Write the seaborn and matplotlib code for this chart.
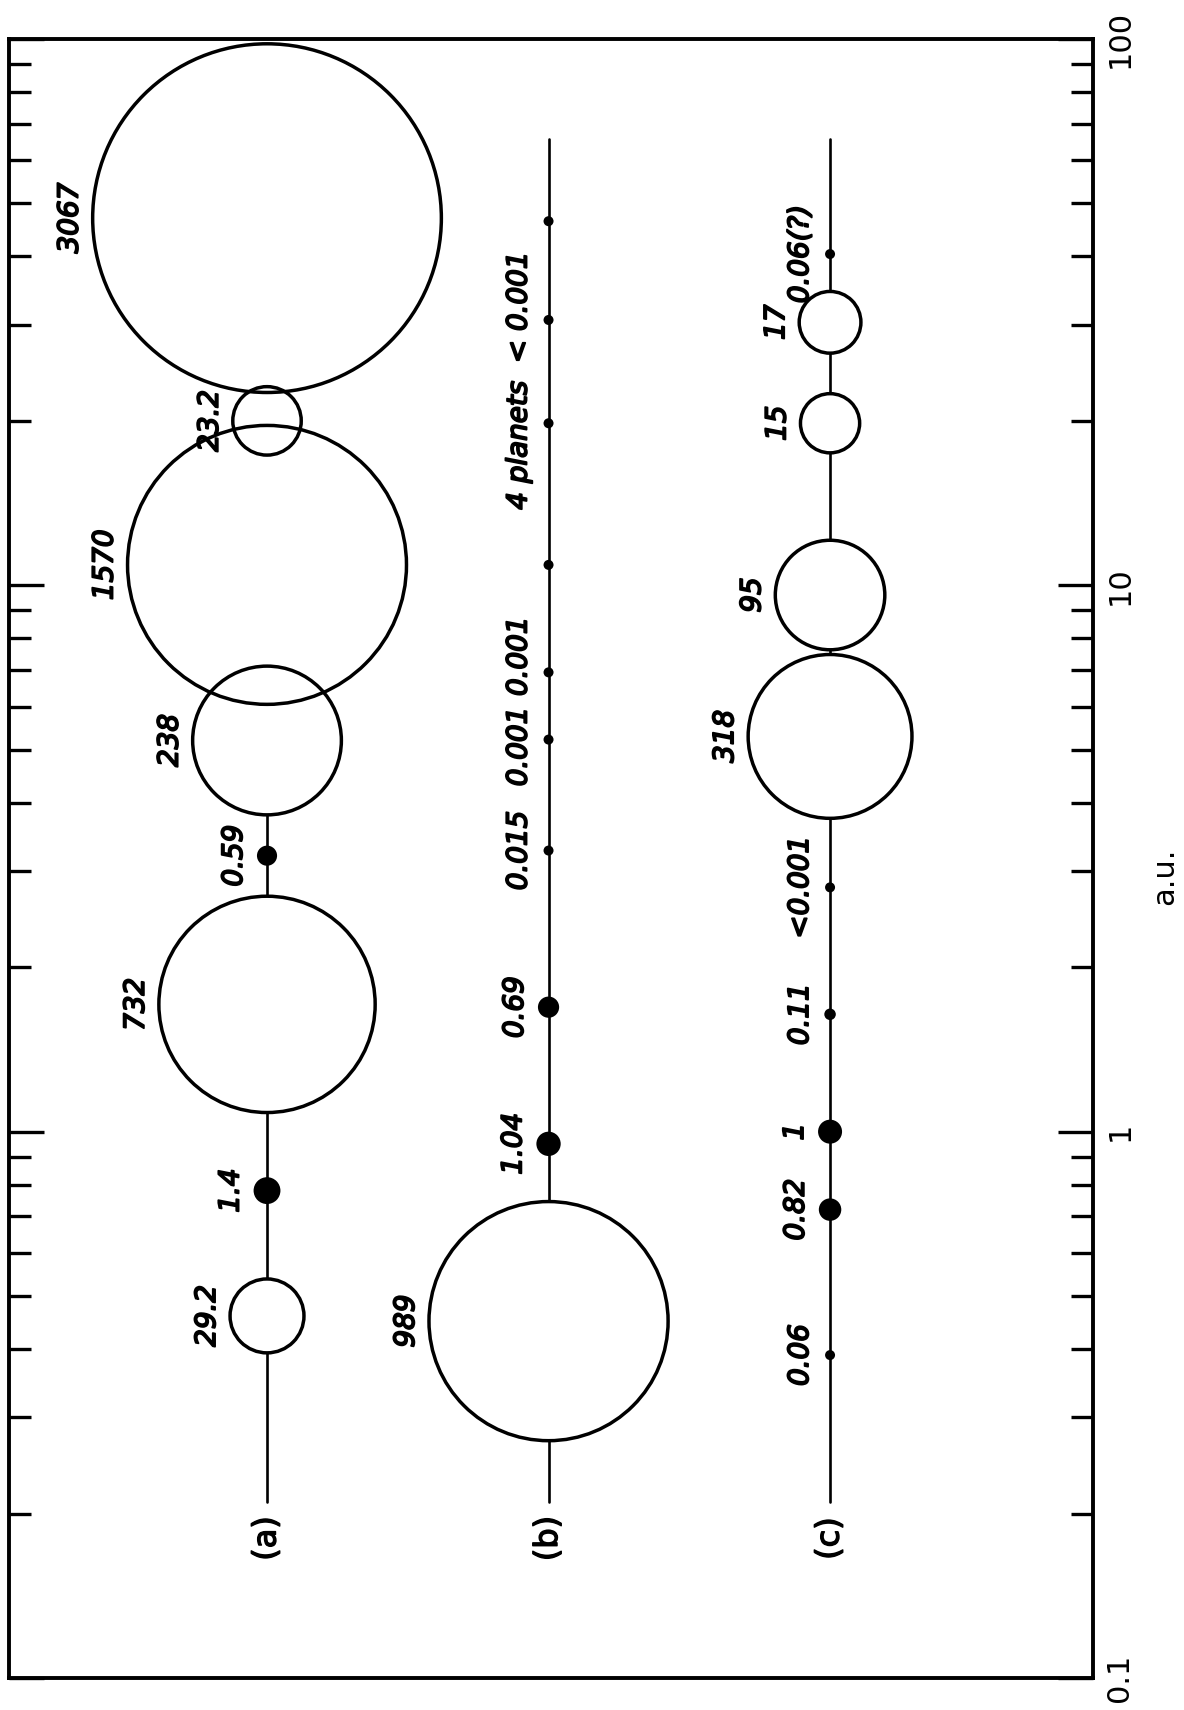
import numpy as np
import pandas as pd
import seaborn as sns
import matplotlib.pyplot as plt
import matplotlib.patheffects as pe
from matplotlib.ticker import LogLocator, FixedLocator, FixedFormatter, NullFormatter

# row (a)
a_au = [0.46, 0.78, 1.71, 3.2, 5.2, 10.9, 20.0, 47.0]
a_mass = [29.2, 1.4, 732, 0.59, 238, 1570, 23.2, 3067]
a_labels = ["29.2", "1.4", "732", "0.59", "238", "1570", "23.2", "3067"]

# row (b)
b_au = [0.45, 0.95, 1.69, 3.27, 5.22, 6.93, 10.9, 19.8, 30.6, 46.4]
b_mass = [989, 1.04, 0.69, 0.015, 0.001, 0.001, 0.001, 0.001, 0.001, 0.001]
b_labels = ["989", "1.04", "0.69", "0.015", "0.001", "0.001", "", "", "", ""]
b_group_label = "4 planets  < 0.001"
b_group_au = 23.7

# row (c)
c_au = [0.39, 0.72, 1.0, 1.64, 2.80, 5.29, 9.6, 19.8, 30.3, 40.4]
c_mass = [0.06, 0.82, 1, 0.11, 0.001, 318, 95, 15, 17, 0.06]
c_labels = ["0.06", "0.82", "1", "0.11", "<0.001", "318", "95", "15", "17", "0.06(?)"]

row_names = ["(a)", "(b)", "(c)"]
line_start = [0.21, 0.21, 0.21]
line_end = [47.0, 65.5, 65.5]
name_au = 0.18

tick_values = [0.1, 1, 10, 100]
tick_labels = ["0.1", "1", "10", "100"]

frames = []
for i, (au, mass, lab) in enumerate([(a_au, a_mass, a_labels),
                                     (b_au, b_mass, b_labels),
                                     (c_au, c_mass, c_labels)]):
    frames.append(pd.DataFrame({"row": i + 1, "au": au, "mass": mass, "label": lab}))
df = pd.concat(frames, ignore_index=True)

# radius ~ cube root of mass, in pixels (dpi 100)
df["r_px"] = np.maximum(12 * np.cbrt(df["mass"]), 5)
df["s"] = (2 * df["r_px"] * 0.72) ** 2
df["dy"] = 0.0
df.loc[(df["row"] == 2) & (df["au"] == 6.93), "dy"] = 16
df.loc[(df["row"] == 2) & (df["au"] == 5.22), "dy"] = -7

big = df[df["mass"] >= 2]
dots = df[df["mass"] < 2]

sns.set_style("white")
plt.rcParams["font.family"] = ["DejaVu Sans"]
plt.rcParams["text.color"] = "black"
plt.rcParams["ytick.color"] = "black"
plt.rcParams["axes.labelcolor"] = "black"

fig = plt.figure(figsize=(11.84, 17.10), dpi=100)
ax = fig.add_axes([9 / 1184, 32 / 1710, 1084 / 1184, 1639 / 1710])
ax.set_yscale("log")

for i in range(3):
    sns.lineplot(x=[i + 1, i + 1], y=[line_start[i], line_end[i]], orient="y",
                 estimator=None, color="black", linewidth=1.9, ax=ax, zorder=1)

sns.scatterplot(data=big, x="row", y="au", s=big["s"].to_numpy(), color="white",
                edgecolor="none", linewidth=0, zorder=2, ax=ax, legend=False, clip_on=False)
sns.scatterplot(data=big, x="row", y="au", s=big["s"].to_numpy(), color="black",
                facecolor="none", edgecolor="black", linewidth=2.5, zorder=3, ax=ax,
                legend=False, clip_on=False)
sns.scatterplot(data=dots, x="row", y="au", s=dots["s"].to_numpy(), color="black",
                edgecolor="none", linewidth=0, zorder=4, ax=ax, legend=False)

stroke = [pe.withStroke(linewidth=1.3, foreground="black")]
for _, r in df.iterrows():
    if not r["label"]:
        continue
    off = (max(r["r_px"], 7) + 9) * 0.72
    ax.annotate(r["label"], xy=(r["row"], r["au"]), xytext=(-off, r["dy"] * 0.72),
                textcoords="offset points", rotation=90, ha="right", va="center",
                fontsize=20, fontstyle="oblique", color="black", path_effects=stroke)

ax.annotate(b_group_label, xy=(2, b_group_au), xytext=(-(7 + 9) * 0.72, 0),
            textcoords="offset points", rotation=90, ha="right", va="center",
            fontsize=20, fontstyle="oblique", color="black", path_effects=stroke)

for i, name in enumerate(row_names):
    ax.text(i + 1, name_au, name, rotation=90, ha="center", va="center", fontsize=23,
            color="black", path_effects=[pe.withStroke(linewidth=1.0, foreground="black")])

ax.set_xlim(0.0835, 3.934)
ax.set_ylim(0.1, 100)
ax.set_xticks([])
ax.set_xlabel("")
ax.set_ylabel("")

ax.yaxis.set_major_locator(FixedLocator(tick_values))
ax.yaxis.set_major_formatter(FixedFormatter(tick_labels))
ax.yaxis.set_minor_locator(LogLocator(base=10, subs=np.arange(2, 10)))
ax.yaxis.set_minor_formatter(NullFormatter())
ax.tick_params(axis="y", which="both", direction="in", left=True, right=True,
               labelleft=False, labelright=True, width=2.4, labelsize=22,
               labelrotation=90, pad=9, colors="black")
ax.tick_params(axis="y", which="major", length=25)
ax.tick_params(axis="y", which="minor", length=16)
for lbl in ax.get_yticklabels():
    lbl.set_va("center")
    lbl.set_color("black")

ax.text(1.066, 0.489, "a.u.", transform=ax.transAxes, rotation=90, ha="center",
        va="center", fontsize=22, color="black")

for sp in ax.spines.values():
    sp.set_visible(True)
    sp.set_linewidth(2.8)
    sp.set_color("black")

fig.savefig("out.png", dpi=100)
